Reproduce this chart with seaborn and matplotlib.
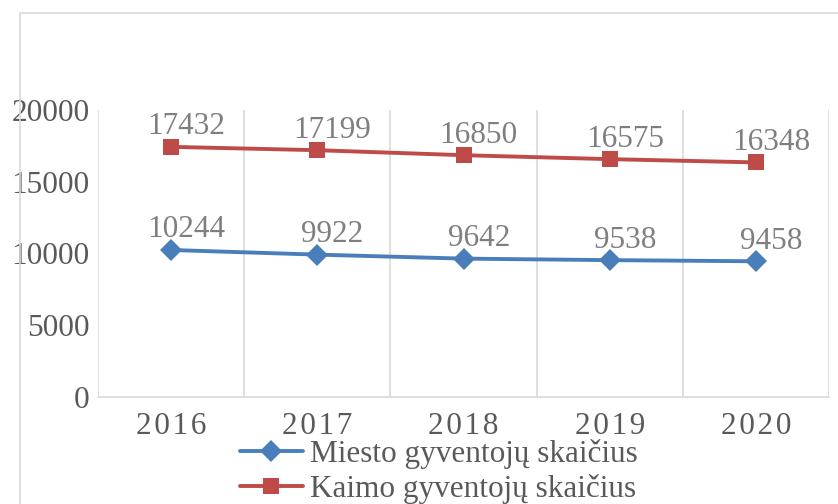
import matplotlib
matplotlib.use("Agg")
import matplotlib.pyplot as plt
from matplotlib.patches import Rectangle
import seaborn as sns
import pandas as pd

years = ["2016", "2017", "2018", "2019", "2020"]
miesto = [10244, 9922, 9642, 9538, 9458]
kaimo = [17432, 17199, 16850, 16575, 16348]
series_names = ["Miesto gyventojų skaičius", "Kaimo gyventojų skaičius"]
y_ticks = [0, 5000, 10000, 15000, 20000]

sns.set_theme(style="white")
plt.rcParams['font.family'] = ['Liberation Serif', 'DejaVu Serif']

W, H = 838, 504
fig = plt.figure(figsize=(W / 100, H / 100), dpi=100)
ax = fig.add_axes([98 / W, 1 - 397 / H, (829 - 98) / W, (397 - 110) / H])

df = pd.DataFrame({
    "idx": list(range(len(years))) * 2,
    "value": miesto + kaimo,
    "series": [series_names[0]] * len(years) + [series_names[1]] * len(years),
})
blue, red = "#4A7EBB", "#BE4B48"
sns.lineplot(data=df, x="idx", y="value", hue="series", style="series",
             palette={series_names[0]: blue, series_names[1]: red},
             markers={series_names[0]: "D", series_names[1]: "s"},
             dashes=False, linewidth=2.8, markersize=11.5, markeredgewidth=0,
             ax=ax, legend=True)

fs = 22.5
for vals in (miesto, kaimo):
    for i, v in enumerate(vals):
        ax.annotate(str(v), (i, v), xytext=(11, 9), textcoords="offset points",
                    ha="center", va="baseline", fontsize=fs, color="#7F7F7F")

ax.set_xlim(-0.5, len(years) - 0.5)
ax.set_ylim(0, 20000)
ax.set_yticks(y_ticks)
ax.set_yticklabels([str(t) for t in y_ticks])
ax.set_xticks(range(len(years)))
ax.set_xticklabels(["\u200a".join(y) for y in years])
ax.tick_params(axis="both", length=0, labelsize=fs, colors="#595959")
ax.tick_params(axis="y", pad=6)
ax.tick_params(axis="x", pad=11)
ax.set_xlabel("")
ax.set_ylabel("")
for b in [i - 0.5 for i in range(len(years) + 1)]:
    ax.axvline(b, color="#D9D9D9", lw=1.2, zorder=0)
for s in ["top", "right", "left"]:
    ax.spines[s].set_visible(False)
ax.spines["bottom"].set_color("#D9D9D9")
ax.spines["bottom"].set_linewidth(1.2)

handles, labels = ax.get_legend_handles_labels()
ax.get_legend().remove()
fig.legend(handles, labels, loc="upper left",
           bbox_to_anchor=(240 / W, 1 - 439 / H), frameon=False,
           fontsize=fs, labelcolor="#595959", handlelength=2.0,
           handletextpad=0.25, borderpad=0, borderaxespad=0, labelspacing=0.15)

fig.add_artist(Rectangle((20 / W, -0.2), 1.2, 1.2 - 13 / H, fill=False,
                         edgecolor="#D9D9D9", lw=1.2, transform=fig.transFigure,
                         clip_on=False))

fig.savefig("out.png", dpi=100)
